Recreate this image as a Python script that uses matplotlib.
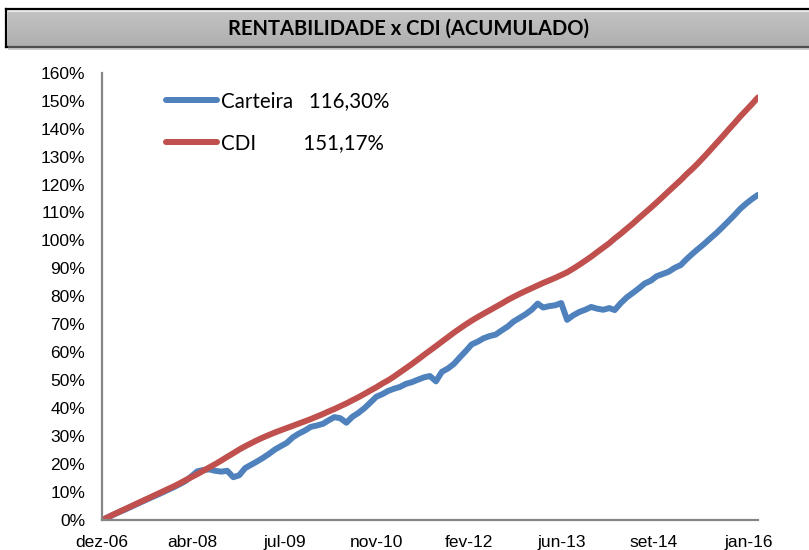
import numpy as np
import pandas as pd
import matplotlib
matplotlib.use("Agg")
import matplotlib.pyplot as plt
from matplotlib.patches import Rectangle

# monthly points, dez-06 .. fev-16 (accumulated %)
dates = pd.date_range("2006-12-31", periods=111, freq="ME")

carteira = [
    0.0, 1.0, 1.9, 2.9, 3.8, 4.8, 5.8, 6.8, 7.8, 8.7,
    9.7, 10.7, 11.7, 12.8, 13.9, 15.6, 17.4, 17.9, 18.1, 17.6,
    17.3, 17.6, 15.3, 16.0, 18.6, 19.8, 20.9, 22.2, 23.6, 25.2,
    26.4, 27.6, 29.6, 30.9, 32.0, 33.3, 33.8, 34.4, 35.6, 36.8,
    36.4, 34.8, 36.9, 38.3, 40.0, 42.0, 44.1, 45.0, 46.2, 47.0,
    47.6, 48.7, 49.3, 50.2, 51.0, 51.5, 49.6, 53.0, 54.2, 55.8,
    58.2, 60.5, 62.8, 63.8, 65.0, 65.8, 66.3, 67.8, 69.2, 71.0,
    72.3, 73.6, 75.2, 77.4, 76.0, 76.5, 76.8, 77.6, 71.6, 73.2,
    74.4, 75.2, 76.2, 75.6, 75.2, 75.8, 75.1, 77.6, 79.6, 81.2,
    82.8, 84.6, 85.6, 87.2, 88.0, 88.8, 90.2, 91.2, 93.2, 95.2,
    97.0, 98.8, 100.7, 102.6, 104.7, 106.8, 109.0, 111.3, 113.2, 114.9,
    116.3,
]

cdi = [
    0.0, 1.0, 2.0, 3.0, 4.0, 5.0, 6.0, 7.0, 8.0, 9.0,
    10.0, 11.0, 12.0, 13.1, 14.2, 15.3, 16.4, 17.6, 18.8, 20.0,
    21.3, 22.6, 23.9, 25.2, 26.4, 27.5, 28.5, 29.5, 30.4, 31.3,
    32.1, 32.9, 33.7, 34.5, 35.3, 36.1, 37.0, 37.9, 38.8, 39.7,
    40.7, 41.7, 42.8, 43.9, 45.1, 46.3, 47.5, 48.8, 50.0, 51.4,
    52.8, 54.3, 55.8, 57.4, 59.0, 60.6, 62.2, 63.8, 65.4, 67.0,
    68.5, 70.0, 71.3, 72.6, 73.8, 75.0, 76.2, 77.4, 78.7, 79.8,
    80.9, 81.9, 82.9, 83.9, 84.8, 85.7, 86.6, 87.6, 88.6, 89.9,
    91.3, 92.7, 94.2, 95.8, 97.4, 99.0, 100.7, 102.4, 104.2, 106.0,
    107.9, 109.8, 111.7, 113.6, 115.6, 117.6, 119.6, 121.6, 123.6, 125.6,
    127.7, 130.0, 132.3, 134.7, 137.1, 139.5, 141.9, 144.3, 146.6, 148.9,
    151.17,
]

tick_dates = pd.to_datetime(["2006-12-31", "2008-04-07", "2009-07-20", "2010-11-01",
                             "2012-02-13", "2013-06-03", "2014-09-15", "2016-01-11"])
tick_labels = ["dez-06", "abr-08", "jul-09", "nov-10", "fev-12", "jun-13", "set-14", "jan-16"]
y_ticks = list(range(0, 161, 10))

legend_labels = ["Carteira   116,30%", "CDI         151,17%"]

blue = "#4F81BD"
red = "#C0504D"
axis_gray = "#868686"

plt.rcParams["font.family"] = ["Liberation Sans", "DejaVu Sans"]

fig = plt.figure(figsize=(8.09, 5.5), dpi=100)

# title box with gradient + shadow
W, H = 809.0, 550.0
shadow = Rectangle((8 / W, (550 - 50) / H), 1.0, 38 / H, transform=fig.transFigure,
                   facecolor="#9a9a9a", edgecolor="none", alpha=0.5, zorder=0)
fig.patches.append(shadow)
tax = fig.add_axes([6 / W, (550 - 47) / H, 1.0, 38 / H])
grad = np.linspace(0, 1, 64).reshape(-1, 1)
tax.imshow(grad, aspect="auto", cmap=matplotlib.colors.LinearSegmentedColormap.from_list(
    "g", ["#efefef", "#c3c3c3"]), extent=[0, 1, 0, 1])
tax.set_xticks([])
tax.set_yticks([])
for s in tax.spines.values():
    s.set_linewidth(1.6)
    s.set_color("black")
fig.text(409 / W, 1 - 29 / H, "RENTABILIDADE x CDI (ACUMULADO)", ha="center", va="center",
         fontsize=14.5, fontweight="bold", family=["Lato", "DejaVu Sans"])

ax = fig.add_axes([102 / W, 30 / H, 656 / W, (520 - 72.7) / H])
ax.plot(dates, carteira, color=blue, lw=4.3, solid_capstyle="round", label=legend_labels[0])
ax.plot(dates, cdi, color=red, lw=4.3, solid_capstyle="round", label=legend_labels[1])

ax.set_xlim(dates[0], dates[-1])
ax.set_ylim(0, 160)
ax.set_yticks(y_ticks)
ax.set_yticklabels([f"{v}%" for v in y_ticks])
ax.set_xticks(tick_dates)
ax.set_xticklabels(tick_labels)
ax.tick_params(axis="both", length=0, labelsize=12.5, colors="black")
ax.tick_params(axis="y", pad=12)
ax.tick_params(axis="x", pad=11)
for side in ["top", "right"]:
    ax.spines[side].set_visible(False)
for side in ["left", "bottom"]:
    ax.spines[side].set_color(axis_gray)
    ax.spines[side].set_linewidth(1.6)
ax.patch.set_alpha(0)

leg = ax.legend(loc="upper left", bbox_to_anchor=(0.069, 1.0), frameon=False,
                handlelength=2.5, handletextpad=0.2, labelspacing=1.05,
                prop={"family": ["Lato", "DejaVu Sans"], "size": 14.8})
for h in leg.legend_handles:
    h.set_linewidth(4.3)

fig.savefig("out.png", dpi=100)
